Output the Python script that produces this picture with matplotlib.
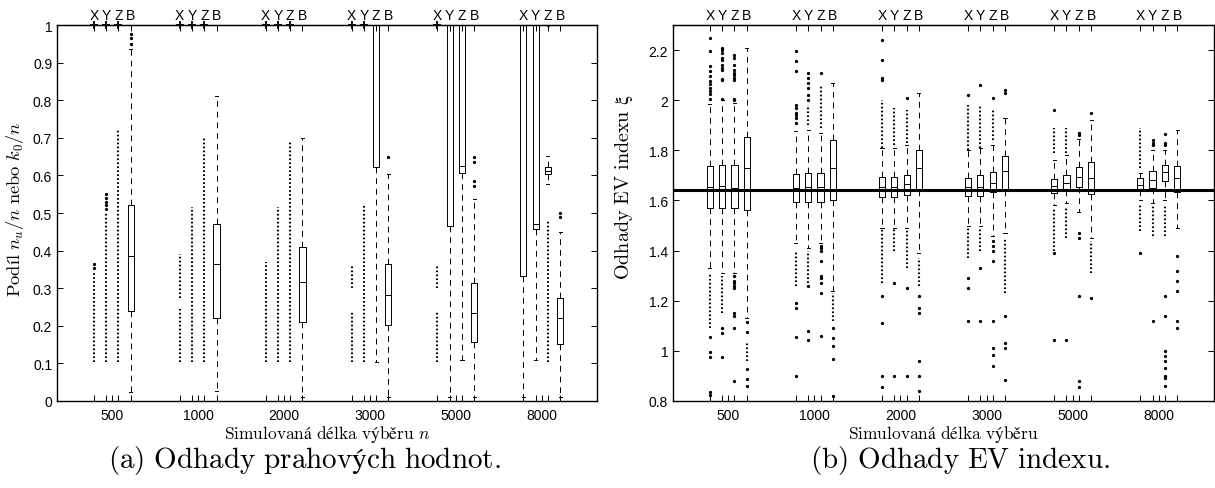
import matplotlib
matplotlib.use("Agg")
import matplotlib.pyplot as plt

plt.rcParams["mathtext.fontset"] = "custom"
plt.rcParams["mathtext.rm"] = "cmr10"
plt.rcParams["mathtext.it"] = "cmmi10"
plt.rcParams["mathtext.bf"] = "cmb10"
plt.rcParams["mathtext.fallback"] = "stix"
plt.rcParams["axes.unicode_minus"] = False

groups = ["500", "1000", "2000", "3000", "5000", "8000"]
series = ["X", "Y", "Z", "B"]

# (a) podil n_u/n nebo k_0/n  -- order: X Y Z B for each group
a_q1 = [1, 1, 1, .24, 1, 1, 1, .22, 1, 1, 1, .21,
        1, 1, .622, .202, 1, .466, .606, .157, .333, .457, .604, .151]
a_med = [1, 1, 1, .385, 1, 1, 1, .365, 1, 1, 1, .317,
         1, 1, 1, .282, 1, 1, .625, .234, 1, .47, .613, .22]
a_q3 = [1, 1, 1, .52, 1, 1, 1, .47, 1, 1, 1, .41,
        1, 1, 1, .364, 1, 1, 1, .314, 1, 1, .622, .274]
a_lo = [1, 1, 1, .024, 1, 1, 1, .027, 1, 1, 1, .01,
        1, 1, .104, .01, 1, .01, .11, .01, .01, .109, .577, .01]
a_hi = [1, 1, 1, .935, 1, 1, 1, .81, 1, 1, 1, .70,
        1, 1, 1, .604, 1, 1, 1, .537, 1, 1, .652, .45]
# dense outlier columns (from, to) and single outliers
a_runs = [[(.105, .345)], [(.105, .50)], [(.105, .72)], [],
          [(.105, .245), (.275, .39)], [(.105, .515)], [(.105, .70)], [],
          [(.105, .37)], [(.105, .515)], [(.105, .69)], [],
          [(.105, .24), (.30, .36)], [(.105, .52)], [], [],
          [(.105, .24), (.30, .36)], [], [], [],
          [], [], [(.105, .48)], []]
a_pts = [[.355, .365], [.51, .52, .53, .54, .55], [], [.95, .965, .976],
         [], [], [], [],
         [], [], [], [],
         [], [], [], [.648],
         [], [], [], [.573, .585, .635, .65],
         [], [], [1.0], [.49, .50]]

# (b) odhady EV indexu
b_q1 = [1.57, 1.57, 1.57, 1.56, 1.594, 1.594, 1.594, 1.60, 1.612, 1.615, 1.62, 1.64,
        1.618, 1.617, 1.634, 1.64, 1.63, 1.64, 1.655, 1.626, 1.642, 1.65, 1.678, 1.635]
b_med = [1.654, 1.657, 1.65, 1.73, 1.65, 1.652, 1.652, 1.73, 1.655, 1.655, 1.665, 1.73,
         1.653, 1.655, 1.67, 1.717, 1.658, 1.67, 1.694, 1.69, 1.66, 1.68, 1.715, 1.69]
b_q3 = [1.737, 1.74, 1.74, 1.855, 1.705, 1.71, 1.71, 1.84, 1.692, 1.695, 1.70, 1.80,
        1.69, 1.70, 1.713, 1.777, 1.685, 1.70, 1.733, 1.753, 1.69, 1.717, 1.741, 1.737]
b_lo = [1.33, 1.31, 1.31, 1.13, 1.43, 1.41, 1.43, 1.24, 1.49, 1.49, 1.49, 1.39,
        1.50, 1.50, 1.46, 1.47, 1.58, 1.59, 1.553, 1.45, 1.60, 1.59, 1.60, 1.49]
b_hi = [1.985, 2.0, 1.99, 2.21, 1.877, 1.88, 1.87, 2.07, 1.81, 1.81, 1.82, 2.03,
        1.80, 1.81, 1.82, 1.93, 1.76, 1.78, 1.845, 1.92, 1.71, 1.80, 1.80, 1.88]
b_runs = [[(1.09, 1.31)], [(1.15, 1.30)], [], [(.96, 1.03)],
          [(1.26, 1.40)], [(1.90, 1.98), (1.27, 1.40)], [(1.89, 2.06)], [(1.12, 1.23)],
          [(1.81, 2.0), (1.27, 1.49)], [(1.82, 1.97), (1.40, 1.49)], [(1.83, 1.96), (1.33, 1.49)], [(1.26, 1.37)],
          [(1.80, 1.98), (1.37, 1.49)], [(1.81, 1.98), (1.40, 1.49)], [(1.84, 1.96)], [(1.23, 1.45)],
          [(1.79, 1.89), (1.40, 1.57)], [(1.79, 1.89), (1.45, 1.57)], [], [(1.31, 1.44)],
          [(1.73, 1.89), (1.48, 1.58)], [(1.46, 1.58)], [(1.46, 1.58)], []]
b_pts = [[2.25, 2.197, 2.137, 2.117, 2.097, 2.077, 2.064, 2.05, 2.037, 2.024, 2.004,
          1.054, .997, .975, .835, .822],
         [2.21, 2.2, 2.19, 2.17, 2.16, 2.14, 2.13, 2.12, 2.085, 2.08, 2.005, 1.09, 1.07, .975],
         [2.18, 2.17, 2.14, 2.12, 2.11, 2.10, 2.09, 2.08, 2.005, 2.0,
          1.3, 1.28, 1.27, 1.26, 1.25, 1.15, 1.14, 1.09, .88],
         [1.114, 1.074, .928, .888, .861],
         [2.197, 2.157, 2.117, 1.98, 1.97, 1.95, 1.94, 1.93, 1.91, 1.19, 1.17, 1.054, .90],
         [2.11, 2.09, 2.07, 2.05, 2.02, 2.0, 1.26, 1.08, 1.045],
         [2.11, 1.42, 1.41, 1.40, 1.36, 1.30, 1.29, 1.27, 1.23, 1.06],
         [1.09, 1.05, 1.02, .967, .82],
         [2.24, 2.16, 2.09, 2.08, 1.22, 1.11, .90, .856],
         [1.27, .90],
         [2.01, 1.25, .90],
         [1.22, 1.17, 1.15, .96, .90, .84],
         [2.02, 1.29, 1.25, 1.12],
         [2.06, 1.33, 1.12],
         [2.01, 1.44, 1.42, 1.40, 1.36, 1.12, 1.01, .985, .94],
         [2.04, 2.03, 1.14, 1.03, 1.01, .885],
         [1.96, 1.39, 1.045],
         [1.045],
         [1.87, 1.86, 1.47, 1.45, 1.22, .88, .856],
         [1.95, 1.21],
         [1.39],
         [1.84, 1.83, 1.82, 1.12],
         [1.865, 1.83, 1.82, 1.22, 1.14, 1.0, .98, .96, .93, .90, .89, .86],
         [1.38, 1.32, 1.28, 1.24, 1.12, 1.09]]

positions = [g * 7 + i for g in range(len(groups)) for i in range(len(series))]
centers = [g * 7 + 1.5 for g in range(len(groups))]

serif = ["cmr10", "DejaVu Serif"]
sans = ["Liberation Sans", "DejaVu Sans"]

fig = plt.figure(figsize=(12.15, 4.89), dpi=100)
ax1 = fig.add_axes([57 / 1215, 87 / 489, 540 / 1215, 376 / 489])
ax2 = fig.add_axes([673 / 1215, 87 / 489, 541 / 1215, 376 / 489])


def draw_panel(ax, q1, med, q3, lo, hi, runs, pts):
    stats = []
    for k in range(len(positions)):
        stats.append(dict(q1=q1[k], med=med[k], q3=q3[k], whislo=lo[k], whishi=hi[k], fliers=[]))
    ax.bxp(stats, positions=positions, widths=0.5, capwidths=0.25, showfliers=False,
           boxprops=dict(color="k", lw=0.7),
           medianprops=dict(color="k", lw=0.7),
           whiskerprops=dict(color="k", lw=0.7, linestyle=(0, (6, 5))),
           capprops=dict(color="k", lw=0.7),
           manage_ticks=False)
    for k, x in enumerate(positions):
        for r in runs[k]:
            ax.vlines(x, r[0], r[1], colors="k", lw=1.5, linestyles=(0, (0.8, 1.1)))
        if pts[k]:
            ax.plot([x] * len(pts[k]), pts[k], ".", color="k", ms=2.7)
        # box collapsed onto the upper limit
        if q1[k] == q3[k] == lo[k] == hi[k]:
            ax.plot(x, med[k], "+", color="k", ms=6, mew=1.3, clip_on=False)

    ax.set_xlim(-3, 41)
    ax.set_xticks(centers)
    ax.set_xticklabels(groups, family=sans, fontsize=10)
    ax.set_xticks(positions, minor=True)
    ax.tick_params(axis="x", which="both", direction="in", length=4, width=0.7, pad=5)
    ax.tick_params(axis="y", which="both", direction="in", length=4, width=0.7,
                   right=True, labelsize=10)
    for lab in ax.get_yticklabels():
        lab.set_family(sans)
    for s in ax.spines.values():
        s.set_linewidth(1.0)

    top = ax.secondary_xaxis("top")
    top.set_xticks(positions)
    top.set_xticklabels(series * len(groups), family=sans, fontsize=10)
    top.tick_params(direction="in", length=4, width=0.7, pad=2)


draw_panel(ax1, a_q1, a_med, a_q3, a_lo, a_hi, a_runs, a_pts)
ax1.set_ylim(0, 1)
ax1.set_yticks([0, .1, .2, .3, .4, .5, .6, .7, .8, .9, 1])
ax1.set_yticklabels(["0", "0.1", "0.2", "0.3", "0.4", "0.5", "0.6", "0.7", "0.8", "0.9", "1"],
                    family=sans)
ax1.set_xlabel(r"$\mathrm{Simulovaná\ délka\ výběru}\ n$", family=serif, fontsize=12.5, labelpad=1)
ax1.set_ylabel(r"$\mathrm{Podíl}\ n_u/n\ \mathrm{nebo}\ k_0/n$", family=serif, fontsize=13.3)
ax1.yaxis.set_label_coords(-0.058, 0.512)

draw_panel(ax2, b_q1, b_med, b_q3, b_lo, b_hi, b_runs, b_pts)
ax2.axhline(1.64, color="k", lw=2.2)
ax2.set_ylim(0.8, 2.3)
ax2.set_yticks([.8, 1, 1.2, 1.4, 1.6, 1.8, 2, 2.2])
ax2.set_yticklabels(["0.8", "1", "1.2", "1.4", "1.6", "1.8", "2", "2.2"], family=sans)
ax2.set_xlabel(r"$\mathrm{Simulovaná\ délka\ výběru}$", family=serif, fontsize=12.5, labelpad=1)
ax2.set_ylabel(r"$\mathrm{Odhady\ EV\ indexu}\ \xi$", family=serif, fontsize=14.5)
ax2.yaxis.set_label_coords(-0.070, 0.572)

fig.text(304 / 1215, 28 / 489, r"$\mathrm{(a)\ Odhady\ prahových\ hodnot.}$", family=serif,
         fontsize=21, ha="center", va="center")
fig.text(960 / 1215, 28 / 489, r"$\mathrm{(b)\ Odhady\ EV\ indexu.}$", family=serif,
         fontsize=21, ha="center", va="center")

fig.savefig("out.png", dpi=100)
